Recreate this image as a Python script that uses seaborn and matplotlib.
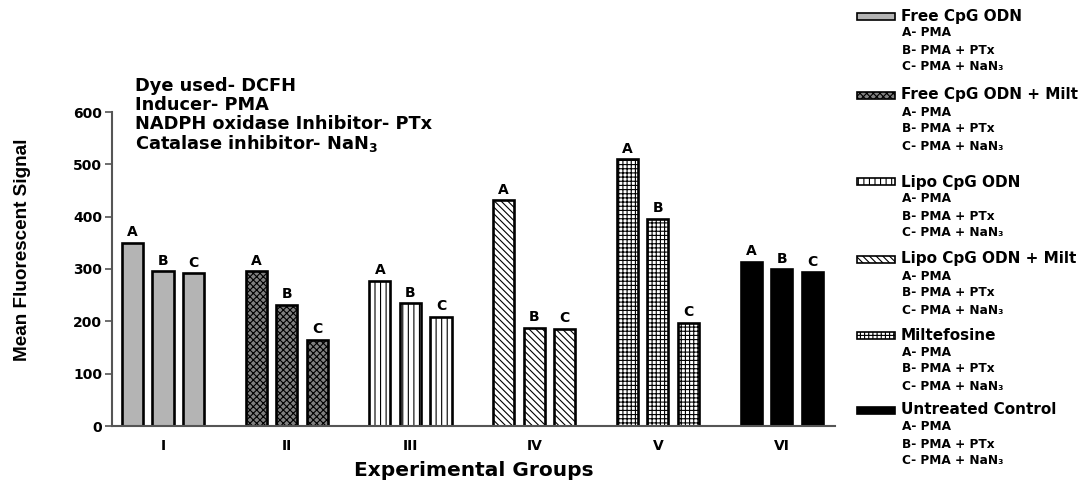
import matplotlib
matplotlib.use("Agg")
import matplotlib.pyplot as plt
from matplotlib.patches import Rectangle
import seaborn as sns
import pandas as pd

# ---- data -------------------------------------------------------------
groups = ["I", "II", "III", "IV", "V", "VI"]
conditions = ["A", "B", "C"]
values_A = [350, 296, 278, 431, 510, 314]
values_B = [296, 232, 235, 188, 396, 300]
values_C = [292, 165, 209, 186, 197, 294]
group_names = ["Free CpG ODN", "Free CpG ODN + Milt", "Lipo CpG ODN",
               "Lipo CpG ODN + Milt", "Miltefosine", "Untreated Control"]
treatments = ["A- PMA", "B- PMA + PTx", "C- PMA + NaN\u2083"]
notes = ["Dye used- DCFH", "Inducer- PMA",
         "NADPH oxidase Inhibitor- PTx", r"Catalase inhibitor- NaN$_\mathbf{3}$"]
yticks = [0, 100, 200, 300, 400, 500, 600]

# ---- styling per experimental group -----------------------------------
faces = ["#b4b4b4", "#808080", "white", "white", "white", "black"]
hatches = [None, "xxxxx", "|||", "\\\\\\\\\\", "++++", None]

sns.set_style("white")
plt.rcParams["font.family"] = ["DejaVu Sans"]
plt.rcParams["font.weight"] = "bold"
plt.rcParams["hatch.linewidth"] = 0.8
plt.rcParams["hatch.color"] = "black"
for key in ["text.color", "axes.labelcolor", "xtick.color", "ytick.color"]:
    plt.rcParams[key] = "black"

df = pd.DataFrame({
    "group": groups * 3,
    "condition": sum([[c] * len(groups) for c in conditions], []),
    "value": values_A + values_B + values_C,
})

W, H = 1089, 483
fig = plt.figure(figsize=(W / 100, H / 100), dpi=100)
ax = fig.add_axes([112 / W, 57 / H, 723 / W, 314 / H])

sns.barplot(data=df, x="group", y="value", hue="condition", order=groups,
            hue_order=conditions, width=0.74, gap=0.31, errorbar=None,
            palette=["white"] * 3, legend=False, ax=ax)

for ci, cont in enumerate(ax.containers):
    for gi, bar in enumerate(cont):
        bar.set_facecolor(faces[gi])
        bar.set_edgecolor("black")
        bar.set_linewidth(1.9)
        if hatches[gi]:
            bar.set_hatch(hatches[gi])
    ax.bar_label(cont, labels=[conditions[ci]] * len(groups), padding=2.5,
                 fontsize=10, fontweight="bold", color="black")

ax.set_xlim(-0.412, 5.431)
ax.set_ylim(0, 600)
ax.set_yticks(yticks)
ax.set_yticklabels([str(t) for t in yticks], fontsize=10, fontweight="bold")
ax.set_xticks(range(len(groups)))
ax.set_xticklabels(groups, fontsize=10, fontweight="bold")
ax.tick_params(axis="x", length=0, pad=9, labelcolor="black")
ax.tick_params(axis="y", length=5, width=1.2, color="#555555", pad=2,
               left=True, direction="out", labelcolor="black")

for side in ["top", "right"]:
    ax.spines[side].set_visible(False)
for side in ["left", "bottom"]:
    ax.spines[side].set_color("#555555")
    ax.spines[side].set_linewidth(1.5)

ax.set_xlabel("Experimental Groups", fontsize=14.5, fontweight="bold",
              color="black")
ax.xaxis.label.set_verticalalignment("center")
ax.xaxis.set_label_coords(0.5, (426 - 470) / 314)

ax.set_ylabel("Mean Fluorescent Signal", fontsize=13.6, fontweight="bold",
              family="Liberation Sans", color="black")
ax.yaxis.label.set_verticalalignment("center")
ax.yaxis.set_label_coords((23 - 112) / 723, (426 - 250) / 314)

# ---- notes block ------------------------------------------------------
for i, line in enumerate(notes):
    fig.text(135 / W, 1 - (86 + 19 * i) / H, line, fontsize=12.8,
             fontweight="bold", va="center", ha="left", color="black")

# ---- legend on the right ---------------------------------------------
title_y = [16, 95, 182, 259, 335, 410]
for gi, name in enumerate(group_names):
    yc = title_y[gi]
    sw = Rectangle((857 / W, 1 - (yc + 3.5) / H), 38 / W, 7 / H,
                   transform=fig.transFigure, facecolor=faces[gi],
                   edgecolor="black", linewidth=1.2,
                   hatch=hatches[gi] if hatches[gi] else None)
    fig.add_artist(sw)
    fig.text(901 / W, 1 - yc / H, name, fontsize=11, fontweight="bold",
             va="center", ha="left", color="black")
    for k, t in enumerate(treatments):
        fig.text(902 / W, 1 - (yc + 17 + 17 * k) / H, t, fontsize=8.7,
                 fontweight="bold", va="center", ha="left", color="black")

fig.savefig("out.png", dpi=100)
